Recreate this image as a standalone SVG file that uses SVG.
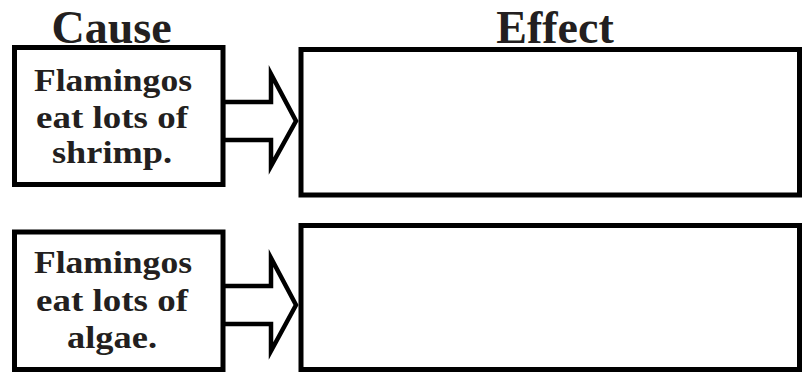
<svg xmlns="http://www.w3.org/2000/svg" width="803" height="372" viewBox="0 0 803 372">
<style>
.box{fill:#fff;stroke:#000;stroke-width:5}
.arrow{fill:#fff;stroke:#000;stroke-width:4.5;stroke-linejoin:miter;stroke-miterlimit:10}
.title{font-family:"Liberation Serif","Times New Roman",serif;font-weight:bold;font-size:46px;fill:#231f20;text-anchor:middle}
.lbl{font-family:"Liberation Serif","Times New Roman",serif;font-weight:bold;font-size:32px;fill:#231f20;text-anchor:middle}
</style>
<rect width="803" height="372" fill="#fff"/>
<text class="title" x="111.5" y="43">Cause</text>
<text class="title" x="555" y="43">Effect</text>
<g id="connectors">
<polygon class="arrow" points="223,102 271,102 271,74 296,121 271,166 271,140 223,140"/>
<polygon class="arrow" points="223,286 271,286 271,258 296,305 271,351 271,324 223,324"/>
</g>
<g id="cause1">
<rect class="box" x="14.5" y="47.5" width="208.5" height="137"/>
<text class="lbl" x="113" y="91" textLength="158" lengthAdjust="spacingAndGlyphs">Flamingos</text>
<text class="lbl" x="112" y="128" textLength="152" lengthAdjust="spacingAndGlyphs">eat lots of</text>
<text class="lbl" x="112" y="163" textLength="120" lengthAdjust="spacingAndGlyphs">shrimp.</text>
</g>
<g id="effect1">
<rect class="box" x="301" y="49.5" width="498.5" height="145.5"/>
</g>
<g id="cause2">
<rect class="box" x="14.5" y="232" width="208.5" height="137.5"/>
<text class="lbl" x="113" y="273" textLength="158" lengthAdjust="spacingAndGlyphs">Flamingos</text>
<text class="lbl" x="112" y="311" textLength="152" lengthAdjust="spacingAndGlyphs">eat lots of</text>
<text class="lbl" x="112" y="348" textLength="90" lengthAdjust="spacingAndGlyphs">algae.</text>
</g>
<g id="effect2">
<rect class="box" x="301" y="225.5" width="498.5" height="144"/>
</g>
</svg>
